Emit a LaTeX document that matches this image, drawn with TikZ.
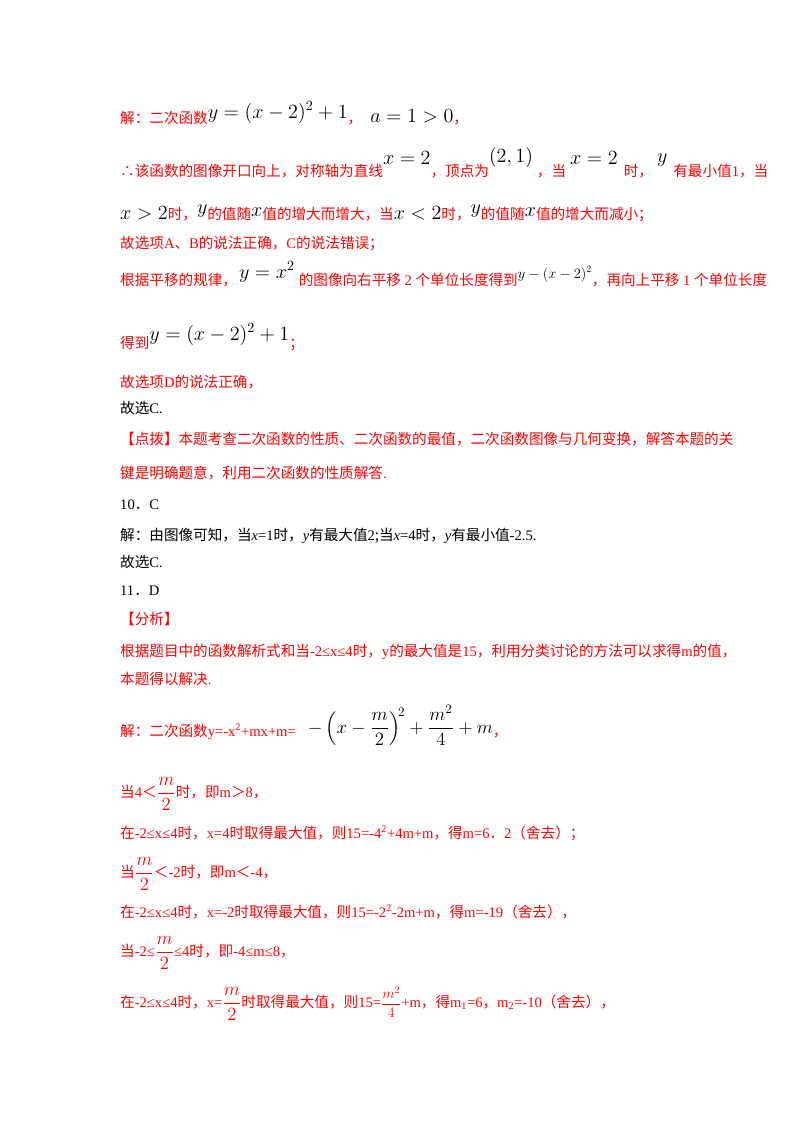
\documentclass[tikz,border=0pt]{standalone}
\usepackage{fontspec}
\usepackage{amsmath}
\setmainfont{Noto Sans CJK SC}
\newfontfamily\lat{Liberation Serif}
\newcommand{\R}[1]{{\lat #1}}
\newcommand{\up}[2][9pt]{\raisebox{#1}{\scalebox{1.4}{$#2$}}}
\newcommand{\fr}[1]{\raisebox{-1pt}{\scalebox{1.3}{$\dfrac{#1}{2}$}}}
\definecolor{redtxt}{HTML}{FF0000}
\tikzset{ln/.style={anchor=base west,inner sep=0pt,font=\fontsize{14.6}{16}\selectfont},
 rd/.style={ln,text=redtxt}, bk/.style={ln,text=black}}
\begin{document}
\begin{tikzpicture}[x=1pt,y=-1pt]
\useasboundingbox[fill=white] (0,0) rectangle (800,1132);
\node[rd] (l1) at (120,123) {解：二次函数\color{black}\up[5pt]{y=(x-2)^2+1}\color{redtxt}，\hspace{8pt}\color{black}\up[1pt]{a=1>0}\color{redtxt}，};
\node[rd] (l2) at (120,176) {∴该函数的图像开口向上，对称轴为直线\color{black}\up[12pt]{x=2}\color{redtxt}，顶点为\color{black}\up[14pt]{(2,1)}\color{redtxt}\hspace{4pt}，当\hspace{4pt}\color{black}\up[12pt]{x=2}\color{redtxt}\hspace{6pt}时，\hspace{4pt}\color{black}\up[14pt]{y}\color{redtxt}\hspace{6pt}有最小值\R{1}，当};
\node[rd] (l3) at (120,219) {\color{black}\up[0pt]{x>2}\color{redtxt}时，\color{black}\up[6pt]{y}\color{redtxt}的值随\color{black}\up[3pt]{x}\color{redtxt}值的增大而增大，当\color{black}\up[0pt]{x<2}\color{redtxt}时，\color{black}\up[6pt]{y}\color{redtxt}的值随\color{black}\up[3pt]{x}\color{redtxt}值的增大而减小；};
\node[rd] (l4) at (120,248) {故选项\R{A}、\R{B}的说法正确，\R{C}的说法错误；};
\node[rd] (l5) at (120,285) {根据平移的规律，\hspace{2pt}\color{black}\up[7pt]{y=x^2}\hspace{4pt}\color{redtxt}的图像向右平移\R{ 2 }个单位长度得到\color{black}\raisebox{7pt}{$y-(x-2)^2$}\color{redtxt}，再向上平移\R{ 1 }个单位长度};
\node[rd] (l6) at (120,348) {得到\color{black}\up[8pt]{y=(x-2)^2+1}\color{redtxt}；};
\node[rd] (l7) at (120,387) {故选项\R{D}的说法正确，};
\node[bk] (l8) at (120,413) {故选\R{C.}};
\node[rd] (l9) at (120,444) {【点拨】本题考查二次函数的性质、二次函数的最值，二次函数图像与几何变换，解答本题的关};
\node[rd] (l10) at (120,478) {键是明确题意，利用二次函数的性质解答\R{.}};
\node[bk] (l11) at (120,509) {\R{10}．\R{C}};
\node[bk] (l12) at (120,540) {解：由图像可知，当\R{\itshape x}\R{=1}时，\R{\itshape y}有最大值\R{2};当\R{\itshape x}\R{=4}时，\R{\itshape y}有最小值\R{-2.5.}};
\node[bk] (l13) at (120,567) {故选\R{C.}};
\node[bk] (l14) at (120,595) {\R{11}．\R{D}};
\node[rd] (l15) at (120,624) {【分析】};
\node[rd] (l16) at (120,656) {根据题目中的函数解析式和当\R{-2≤x≤4}时，\R{y}的最大值是\R{15}，利用分类讨论的方法可以求得\R{m}的值，};
\node[rd] (l17) at (120,684) {本题得以解决\R{.}};
\node[rd] (l18) at (120,736) {解：二次函数\R{y=-x\textsuperscript{2}+mx+m=}\hspace{12pt}\color{black}\raisebox{3pt}{\scalebox{1.3}{$-\left(x-\dfrac{m}{2}\right)^{\!2}+\dfrac{m^2}{4}+m$}}\color{redtxt}，};
\node[rd] (l19) at (120,797) {当\R{4}＜\fr{m}时，即\R{m}＞\R{8}，};
\node[rd] (l20) at (120,838) {在\R{-2≤x≤4}时，\R{x=4}时取得最大值，则\R{15=-4\textsuperscript{2}+4m+m}，得\R{m=6}．\R{2}（舍去）；};
\node[rd] (l21) at (120,877) {当\fr{m}＜\R{-2}时，即\R{m}＜\R{-4}，};
\node[rd] (l22) at (120,917) {在\R{-2≤x≤4}时，\R{x=-2}时取得最大值，则\R{15=-2\textsuperscript{2}-2m+m}，得\R{m=-19}（舍去），};
\node[rd] (l23) at (120,956) {当\R{-2≤}\fr{m}\R{≤4}时，即\R{-4≤m≤8}，};
\node[rd] (l24) at (120,1007) {在\R{-2≤x≤4}时，\R{x=}\fr{m}时取得最大值，则\R{15=}\raisebox{-1pt}{$\dfrac{m^2}{4}$}\R{+m}，得\R{m\textsubscript{1}=6}，\R{m\textsubscript{2}=-10}（舍去），};
\end{tikzpicture}
\end{document}
